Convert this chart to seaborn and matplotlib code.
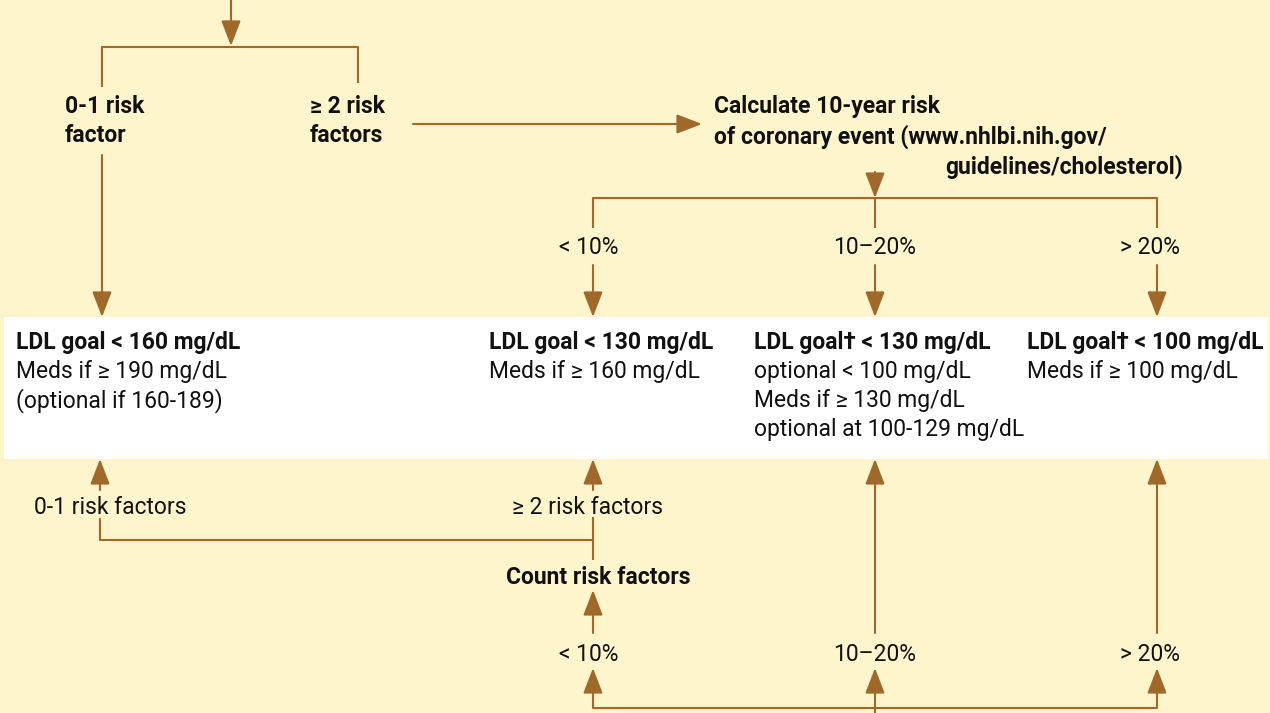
import matplotlib
matplotlib.use("Agg")
import matplotlib.pyplot as plt
import seaborn as sns

# text content of the flowchart
top_branch_labels = ["0-1 risk\nfactor", "≥ 2 risk\nfactors"]
calc_lines = ["Calculate 10-year risk",
              "of coronary event (www.nhlbi.nih.gov/",
              "guidelines/cholesterol)"]
risk_bands = ["< 10%", "10–20%", "> 20%"]
goal_titles = ["LDL goal < 160 mg/dL", "LDL goal < 130 mg/dL",
               "LDL goal† < 130 mg/dL", "LDL goal† < 100 mg/dL"]
goal_notes = [["Meds if ≥ 190 mg/dL", "(optional if 160-189)"],
              ["Meds if ≥ 160 mg/dL"],
              ["optional < 100 mg/dL", "Meds if ≥ 130 mg/dL", "optional at 100-129 mg/dL"],
              ["Meds if ≥ 100 mg/dL"]]
count_labels = ["0-1 risk factors", "≥ 2 risk factors"]
count_title = "Count risk factors"

# layout (pixel coordinates, y grows downward)
band_x = [593, 875, 1157]
band_text_x = [589, 875, 1150]
goal_x = [16, 489, 754, 1027]
line_y = [340, 369, 398, 427]

BG = "#FEF5CC"
BROWN = "#A0692A"
INK = "#111111"
FS = 16.5

sns.set_theme(style="white", rc={"axes.facecolor": BG, "figure.facecolor": BG})
plt.rcParams["font.family"] = ["Roboto", "DejaVu Sans"]

fig = plt.figure(figsize=(12.7, 7.13), dpi=100)
ax = fig.add_axes([0, 0, 1, 1])
ax.set_xlim(0, 1270)
ax.set_ylim(713, 0)
ax.axis("off")


def line(xs, ys):
    ax.plot(xs, ys, color=BROWN, lw=1.5, solid_capstyle="butt", zorder=2)


def arrow(x0, y0, x1, y1):
    ax.annotate("", xy=(x1, y1), xytext=(x0, y0),
                arrowprops=dict(arrowstyle="-|>,head_length=1.3,head_width=0.5",
                                color=BROWN, lw=1.5, shrinkA=0, shrinkB=0),
                zorder=3)


def text(x, y, s, bold=False, ha="left"):
    ax.text(x, y + 2.5, s, fontsize=FS, color=INK, ha=ha, va="center",
            fontweight="bold" if bold else "normal", zorder=4)


# white goal box
ax.add_patch(plt.Rectangle((4, 317), 1264, 142, facecolor="white", edgecolor="none", zorder=1))

# top split
arrow(231, 0, 231, 46)
line([102, 102, 358, 358], [87, 47, 47, 83])
text(65, 104, top_branch_labels[0].split("\n")[0], bold=True)
text(65, 133, top_branch_labels[0].split("\n")[1], bold=True)
text(310, 104, top_branch_labels[1].split("\n")[0], bold=True)
text(310, 133, top_branch_labels[1].split("\n")[1], bold=True)
arrow(102, 155, 102, 317)
arrow(413, 124, 702, 124)

text(714, 104, calc_lines[0], bold=True)
text(714, 134, calc_lines[1], bold=True)
text(1183, 164, calc_lines[2], bold=True, ha="right")

# 10-year risk split
arrow(875, 172, 875, 198)
line([band_x[0], band_x[0], band_x[2], band_x[2]], [228, 198, 198, 228])
line([band_x[1], band_x[1]], [198, 228])
for bx, tx, lab in zip(band_x, band_text_x, risk_bands):
    text(tx, 245, lab, ha="center")
    arrow(bx, 265, bx, 317)

# goal texts
for gx, title, notes in zip(goal_x, goal_titles, goal_notes):
    text(gx, line_y[0], title, bold=True)
    for ly, note in zip(line_y[1:], notes):
        text(gx, ly, note)

# count risk factors branch
arrow(100, 490, 100, 459)
text(34, 505, count_labels[0])
line([100, 100, 593], [518, 540, 540])
arrow(593, 490, 593, 459)
text(588, 505, count_labels[1], ha="center")
line([593, 593], [517, 560])
text(598, 575, count_title, bold=True, ha="center")
arrow(593, 633, 593, 590)

# bottom risk bands
for bx, tx, lab in zip(band_x, band_text_x, risk_bands):
    text(tx, 652, lab, ha="center")
    arrow(bx, 708, bx, 668)
arrow(band_x[1], 633, band_x[1], 459)
arrow(band_x[2], 633, band_x[2], 459)
line([band_x[0], band_x[2]], [708, 708])
line([band_x[1], band_x[1]], [708, 713])

fig.savefig("out.png", dpi=100, facecolor=BG)
